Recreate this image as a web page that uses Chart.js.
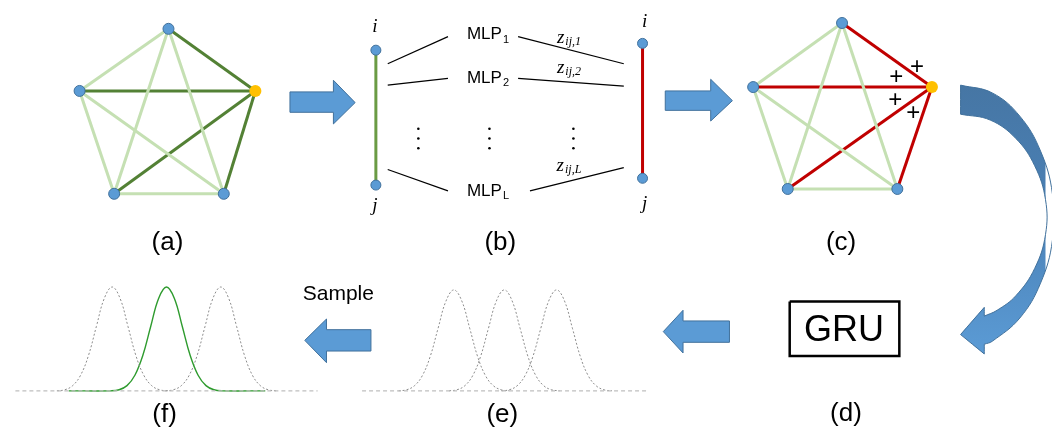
<!DOCTYPE html>
<html>
<head>
<meta charset="utf-8">
<script src="https://cdn.jsdelivr.net/npm/chart.js@4.4.0/dist/chart.umd.min.js"></script>
<style>
  html, body { margin: 0; padding: 0; background: #fff; }
  #wrap { width: 1052px; height: 441px; }
</style>
</head>
<body>
<div id="wrap"><canvas id="fig"></canvas></div>
<script>
// ---- graph panels (a) and (c): node positions, yellow hub is index 2
var nodesA = [[164, 23], [74, 87], [252, 87], [109, 193], [220, 193]];
var nodesC = [[846, 17], [756, 83], [937, 83], [791, 188], [902, 188]];
var hubIndex = 2;
var edgesLight = [[0, 1], [0, 3], [0, 4], [1, 3], [1, 4], [3, 4]];
var edgesHub = [[2, 0], [2, 1], [2, 3], [2, 4]];

// ---- panel (b): edge i-j before and after, MLP wires
var edgeLeft = [[374, 45], [374, 184]];
var edgeRight = [[644, 38], [644, 177]];
var wiresIn = [[[386, 59], [447, 31]], [[386, 81], [447, 74]], [[386, 168], [447, 190]]];
var wiresOut = [[[518, 31], [625, 59]], [[518, 74], [625, 82]], [[530, 190], [625, 166]]];
var dotsX = [417, 489, 574];
var dotsY = [126, 136, 146];

// ---- block arrows
var arrowAB = [[287, 88], [331, 88], [331, 76], [353, 99], [331, 121], [331, 109], [287, 109], [287, 88]];
var arrowBC = [[667, 87], [713, 87], [713, 75], [735, 97], [713, 118], [713, 107], [667, 107], [667, 87]];
var arrowDE = [[732, 324], [685, 324], [685, 313], [665, 335], [685, 357], [685, 346], [732, 346], [732, 324]];
var arrowEF = [[369, 333], [324, 333], [324, 322], [302, 344], [324, 367], [324, 355], [369, 355], [369, 333]];
// curved arrow (c) -> (d): outer rim, head, inner rim; corners written twice so the spline keeps them sharp
var arrowCD = [[966, 81], [966, 81], [998, 89], [1026, 113], [1047, 149], [1059, 193], [1059, 241],
  [1047, 285], [1026, 321], [998, 345], [990, 348], [990, 348],
  [990, 358], [990, 358], [966, 338], [966, 338], [990, 310], [990, 310], [990, 319], [990, 319],
  [1003, 313], [1022, 298], [1041, 270], [1052, 235], [1052, 199], [1041, 164], [1022, 136],
  [996, 117], [966, 111], [966, 111], [966, 81], [966, 81]];

// ---- GRU box
var gruBox = [[793, 304], [904, 304], [904, 360], [793, 360], [793, 304]];

// ---- gaussians (e) and (f): one bell profile
var bellDx = [-56, -48, -40, -32, -24, -16, -8, 0, 8, 16, 24, 32, 40, 48, 56];
var bellShare = [0, 0.01, 0.05, 0.15, 0.34, 0.62, 0.89, 1, 0.89, 0.62, 0.34, 0.15, 0.05, 0.01, 0];
var baseY = 396;
var peaksE = [453, 504, 557];
var heightE = 104;
var peaksF = [107, 162, 217];
var heightF = 107;
var greenPeak = 1; // the sampled one in (f)
var greenSpan = [63, 262];
var baselineE = [360, 648];
var baselineF = [9, 315];

// ---- text
var captions = [
  { t: '(a)', x: 163, y: 243 }, { t: '(b)', x: 500, y: 243 }, { t: '(c)', x: 845, y: 243 },
  { t: '(d)', x: 850, y: 420 }, { t: '(e)', x: 502, y: 421 }, { t: '(f)', x: 160, y: 421 }
];
var mlpLabels = [{ sub: '1', x: 487, y: 29 }, { sub: '2', x: 487, y: 74 }, { sub: 'L', x: 487, y: 190 }];
var zLabels = [{ sub: 'ij,1', x: 569, y: 32 }, { sub: 'ij,2', x: 569, y: 63 }, { sub: 'ij,L', x: 569, y: 164 }];
var nodeLetters = [{ t: 'i', x: 373, y: 21 }, { t: 'j', x: 373, y: 206 }, { t: 'i', x: 646, y: 16 }, { t: 'j', x: 646, y: 203 }];
var plusSigns = [[922, 63], [901, 73], [900, 97], [918, 110]];

function pts(list) {
  return list.map(function (p) { return { x: p[0], y: p[1] }; });
}

function line(points, color, width, dash) {
  return {
    data: pts(points), showLine: true, borderColor: color, borderWidth: width,
    borderDash: dash || [], pointRadius: 0, fill: false, tension: 0, clip: false, order: 5
  };
}

function shape(points, fillColor, edge) {
  return {
    data: pts(points), showLine: true, borderColor: edge, borderWidth: 1,
    backgroundColor: fillColor, fill: 'shape', pointRadius: 0, tension: 0, clip: false, order: 5
  };
}

function bell(center, height) {
  return bellDx.map(function (d, k) { return [center + d, baseY - height * bellShare[k]]; });
}

var datasets = [];

// graphs
[[nodesA, '#538135'], [nodesC, '#C00000']].forEach(function (g) {
  var nodes = g[0];
  edgesLight.forEach(function (e) {
    datasets.push(line([nodes[e[0]], nodes[e[1]]], '#C5E0B3', 3));
  });
  edgesHub.forEach(function (e) {
    datasets.push(line([nodes[e[0]], nodes[e[1]]], g[1], 3));
  });
  datasets.push({
    data: pts(nodes.filter(function (n, k) { return k !== hubIndex; })),
    showLine: false, pointRadius: 5.5, backgroundColor: '#5B9BD5', borderColor: '#41719C',
    borderWidth: 1, clip: false, order: 1
  });
  datasets.push({
    data: pts([nodes[hubIndex]]), showLine: false, pointRadius: 6, backgroundColor: '#FFC000',
    borderColor: '#FFC000', borderWidth: 0, clip: false, order: 1
  });
});

// panel (b)
datasets.push(line(edgeLeft, '#6A9B44', 3));
datasets.push(line(edgeRight, '#C00000', 3));
wiresIn.concat(wiresOut).forEach(function (w) { datasets.push(line(w, '#000', 1.2)); });
datasets.push({
  data: pts(edgeLeft.concat(edgeRight)), showLine: false, pointRadius: 5,
  backgroundColor: '#5B9BD5', borderColor: '#41719C', borderWidth: 1, clip: false, order: 1
});
var dots = [];
dotsX.forEach(function (x) { dotsY.forEach(function (y) { dots.push([x, y]); }); });
datasets.push({
  data: pts(dots), showLine: false, pointRadius: 1.3, backgroundColor: '#000',
  borderWidth: 0, clip: false, order: 1
});

// arrows
[arrowAB, arrowBC, arrowDE, arrowEF].forEach(function (a) {
  datasets.push(shape(a, '#5B9BD5', '#41719C'));
});
var curved = shape(arrowCD, '#5B9BD5', '#41719C');
curved.tension = 0.4;
curved.capBezierPoints = false;
curved.backgroundColor = function (c) {
  var ch = c.chart;
  if (!ch.chartArea) return '#5B9BD5';
  var y = ch.scales.y;
  var g = ch.ctx.createLinearGradient(0, y.getPixelForValue(81), 0, y.getPixelForValue(358));
  g.addColorStop(0, '#4676A4');
  g.addColorStop(0.45, '#4A80B5');
  g.addColorStop(1, '#5B9BD5');
  return g;
};
datasets.push(curved);

// GRU box
datasets.push(line(gruBox, '#000', 2.5));

// gaussians
datasets.push(line([[baselineE[0], baseY], [baselineE[1], baseY]], '#BFBFBF', 1.3, [4, 3]));
datasets.push(line([[baselineF[0], baseY], [baselineF[1], baseY]], '#BFBFBF', 1.3, [4, 3]));
peaksE.forEach(function (c) {
  var d = line(bell(c, heightE), '#8C8C8C', 1, [2, 2]);
  d.tension = 0.4;
  datasets.push(d);
});
peaksF.forEach(function (c, k) {
  var d;
  if (k === greenPeak) {
    d = line([[greenSpan[0], baseY]].concat(bell(c, heightF), [[greenSpan[1], baseY]]), '#2E9B2E', 1.4);
  } else {
    d = line(bell(c, heightF), '#8C8C8C', 1, [2, 2]);
  }
  d.tension = 0.4;
  datasets.push(d);
});

// text drawn on top
var textPlugin = {
  id: 'figText',
  afterDatasetsDraw: function (chart) {
    var ctx = chart.ctx;
    var sx = chart.scales.x, sy = chart.scales.y;
    function X(v) { return sx.getPixelForValue(v); }
    function Y(v) { return sy.getPixelForValue(v); }
    ctx.save();
    ctx.fillStyle = '#000';
    ctx.textBaseline = 'middle';
    ctx.textAlign = 'center';

    ctx.font = '26px "Liberation Sans", Arial, sans-serif';
    captions.forEach(function (c) { ctx.fillText(c.t, X(c.x), Y(c.y)); });

    ctx.font = '36px "Liberation Sans", Arial, sans-serif';
    ctx.fillText('GRU', X(848), Y(334));

    ctx.font = '21px "Liberation Sans", Arial, sans-serif';
    ctx.fillText('Sample', X(336), Y(296));

    ctx.font = '24px "Liberation Sans", Arial, sans-serif';
    plusSigns.forEach(function (p) { ctx.fillText('+', X(p[0]), Y(p[1])); });

    ctx.font = 'italic 19px "Liberation Serif", serif';
    nodeLetters.forEach(function (n) { ctx.fillText(n.t, X(n.x), Y(n.y)); });

    // label with subscript, centred on x
    function subText(main, sub, x, y, f1, f2, drop) {
      ctx.textAlign = 'left';
      ctx.font = f1;
      var w1 = ctx.measureText(main).width;
      ctx.font = f2;
      var w2 = ctx.measureText(sub).width;
      var x0 = X(x) - (w1 + w2) / 2;
      ctx.font = f1;
      ctx.fillText(main, x0, Y(y));
      ctx.font = f2;
      ctx.fillText(sub, x0 + w1 + 1, Y(y) + drop);
      ctx.textAlign = 'center';
    }
    mlpLabels.forEach(function (m) {
      subText('MLP', m.sub, m.x, m.y, '17px "Liberation Sans", Arial, sans-serif',
        '11px "Liberation Sans", Arial, sans-serif', 5);
    });
    zLabels.forEach(function (z) {
      subText('z', z.sub, z.x, z.y, 'italic 19px "Liberation Serif", serif',
        'italic 12px "Liberation Serif", serif', 4);
    });
    ctx.restore();
  }
};

new Chart(document.getElementById('fig'), {
  type: 'scatter',
  data: { datasets: datasets },
  options: {
    responsive: true,
    maintainAspectRatio: false,
    animation: false,
    events: [],
    layout: { padding: 0 },
    scales: {
      x: { type: 'linear', min: 0, max: 1052, display: false },
      y: { type: 'linear', min: 0, max: 441, reverse: true, display: false }
    },
    plugins: { legend: { display: false }, tooltip: { enabled: false } }
  },
  plugins: [textPlugin]
});
</script>
</body>
</html>
